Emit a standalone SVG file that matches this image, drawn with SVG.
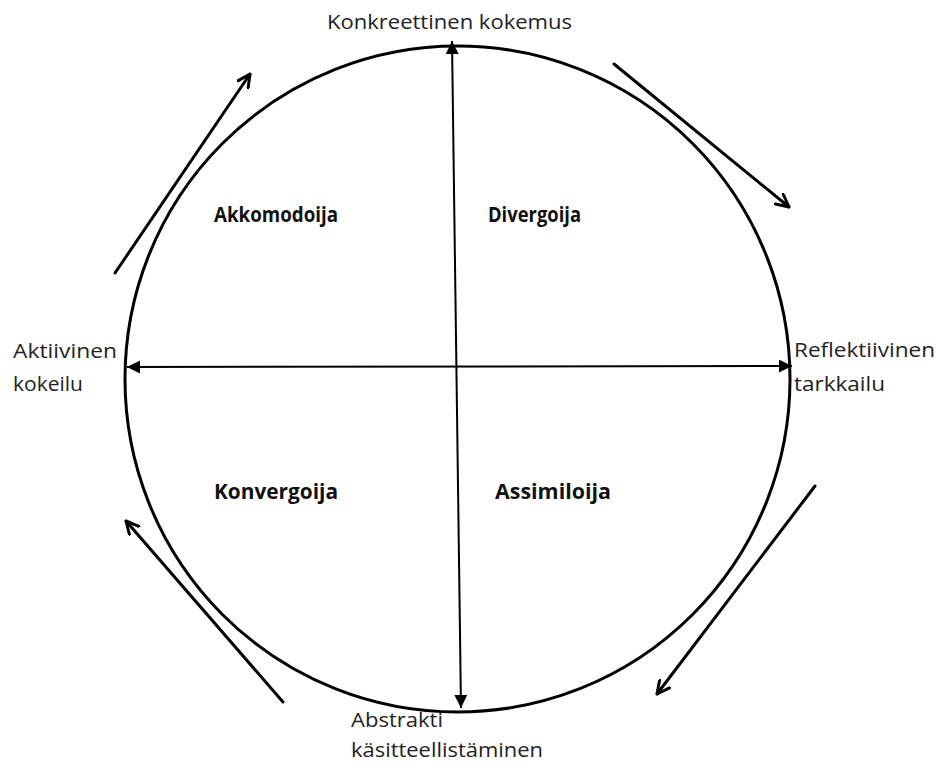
<svg xmlns="http://www.w3.org/2000/svg" width="939" height="764" viewBox="0 0 939 764">
<style>
.lbl{font-family:"Open Sans","Liberation Sans",Arial,sans-serif;font-size:20.5px;fill:#222}
.bold{font-family:"Open Sans","Liberation Sans",sans-serif;font-size:20.5px;font-weight:bold;fill:#111}
.axis{stroke:#000;stroke-width:2;fill:none}
.flow{stroke:#000;stroke-width:3;fill:none;stroke-linecap:round}
</style>
<defs>
<marker id="tri2" viewBox="0 0 10 10" refX="10" refY="5" markerWidth="13" markerHeight="13" markerUnits="userSpaceOnUse" orient="auto-start-reverse">
<path d="M0,0 L10,5 L0,10 z" fill="#000"/>
</marker>
<marker id="vee" viewBox="0 0 12 12" refX="11" refY="6" markerWidth="15" markerHeight="15" markerUnits="userSpaceOnUse" orient="auto">
<path d="M1,1 L11,6 L1,11" fill="none" stroke="#000" stroke-width="2.4" stroke-linecap="round" stroke-linejoin="round"/>
</marker>
</defs>
<rect width="939" height="764" fill="#fff"/>
<g id="circle">
<ellipse cx="457.5" cy="379" rx="332.5" ry="333" fill="none" stroke="#000" stroke-width="3"/>
</g>
<g id="connectors">
<line class="axis" x1="461" y1="708" x2="452" y2="41" marker-start="url(#tri2)" marker-end="url(#tri2)"/>
<line class="axis" x1="127" y1="367" x2="792" y2="366" marker-start="url(#tri2)" marker-end="url(#tri2)"/>
<line class="flow" x1="115" y1="273" x2="250" y2="74" marker-end="url(#vee)"/>
<line class="flow" x1="614" y1="64" x2="789" y2="207" marker-end="url(#vee)"/>
<line class="flow" x1="815" y1="486" x2="657" y2="694" marker-end="url(#vee)"/>
<line class="flow" x1="283" y1="702" x2="126" y2="521" marker-end="url(#vee)"/>
</g>
<g id="n-konkreettinen"><text class="lbl" x="327" y="29" textLength="245" lengthAdjust="spacingAndGlyphs">Konkreettinen kokemus</text></g>
<g id="n-aktiivinen"><text class="lbl" x="13" y="358" textLength="104" lengthAdjust="spacingAndGlyphs">Aktiivinen</text><text class="lbl" x="13" y="391" textLength="70" lengthAdjust="spacingAndGlyphs">kokeilu</text></g>
<g id="n-reflektiivinen"><text class="lbl" x="794" y="357" textLength="141" lengthAdjust="spacingAndGlyphs">Reflektiivinen</text><text class="lbl" x="794" y="391" textLength="91" lengthAdjust="spacingAndGlyphs">tarkkailu</text></g>
<g id="n-abstrakti"><text class="lbl" x="351" y="727" textLength="92" lengthAdjust="spacingAndGlyphs">Abstrakti</text><text class="lbl" x="351" y="757" textLength="192" lengthAdjust="spacingAndGlyphs">käsitteellistäminen</text></g>
<g id="n-akkomodoija"><text class="bold" x="214" y="222" textLength="124" lengthAdjust="spacingAndGlyphs">Akkomodoija</text></g>
<g id="n-divergoija"><text class="bold" x="488" y="222" textLength="93" lengthAdjust="spacingAndGlyphs">Divergoija</text></g>
<g id="n-konvergoija"><text class="bold" x="214" y="499" textLength="124" lengthAdjust="spacingAndGlyphs">Konvergoija</text></g>
<g id="n-assimiloija"><text class="bold" x="495" y="499" textLength="116" lengthAdjust="spacingAndGlyphs">Assimiloija</text></g>
</svg>
